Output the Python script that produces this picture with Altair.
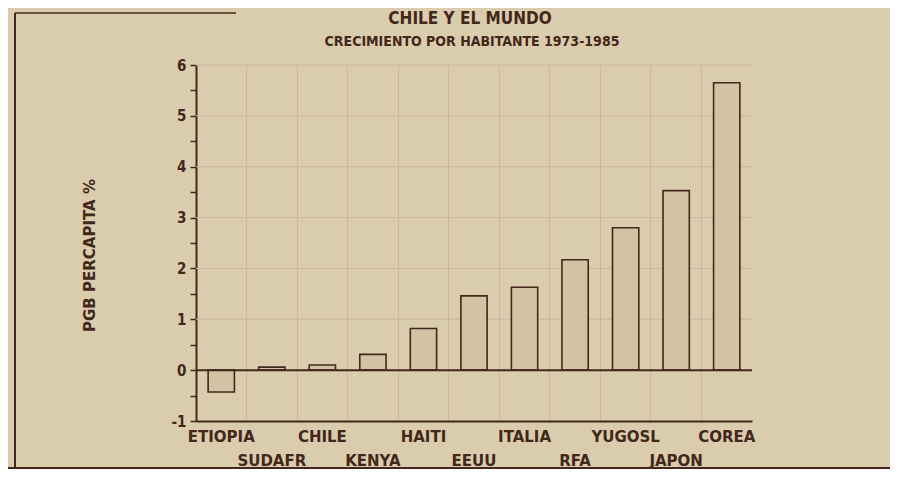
import altair as alt
import pandas as pd

countries = ["ETIOPIA", "SUDAFR", "CHILE", "KENYA", "HAITI", "EEUU",
             "ITALIA", "RFA", "YUGOSL", "JAPON", "COREA"]
values = [-0.43, 0.06, 0.10, 0.31, 0.82, 1.46, 1.63, 2.17, 2.80, 3.53, 5.65]
grid_lines = [1, 2, 3, 4, 5, 6]
zero_line = [0]
y_ticks = [-1, -0.5, 0, 0.5, 1, 1.5, 2, 2.5, 3, 3.5, 4, 4.5, 5, 5.5, 6]
title_text = "CHILE Y EL MUNDO"
subtitle_text = "CRECIMIENTO POR HABITANTE 1973-1985"

df = pd.DataFrame({"pais": countries, "pgb": values,
                   "fila": [i % 2 for i in range(len(countries))]})
gdf = pd.DataFrame({"pgb": grid_lines})
zdf = pd.DataFrame({"pgb": zero_line})

INK = "#43271a"
BG = "#dacdad"
GRID = "#d2b49f"
BARFILL = "#d2c3a4"
FONT = "DejaVu Sans Condensed"
WIDE = "DejaVu Sans"

xscale = alt.Scale(domain=countries, paddingInner=0, paddingOuter=0)
yscale = alt.Scale(domain=[-1, 6], nice=False, zero=False)

yaxis = alt.Axis(values=y_ticks,
                 labelExpr="datum.value % 1 === 0 ? '' + datum.value : ''",
                 grid=False, tickSize=6, tickColor=INK, tickWidth=1.5,
                 domainColor=INK, domainWidth=2,
                 labelFont=FONT, labelFontSize=15, labelFontWeight="bold",
                 labelColor=INK, labelPadding=4,
                 title="PGB PERCAPITA %", titleFont=WIDE,
                 titleFontSize=15, titleFontWeight="bold",
                 titleColor=INK, titlePadding=74, titleY=190)

bars = alt.Chart(df).mark_bar(
    width=alt.RelativeBandSize(0.52), fill=BARFILL, stroke=INK, strokeWidth=1.6
).encode(
    x=alt.X("pais:N", sort=countries, scale=xscale,
            axis=alt.Axis(labels=False, ticks=False, grid=True, bandPosition=0,
                          gridColor=GRID, gridWidth=1, domainColor=INK,
                          domainWidth=2, title=None)),
    y=alt.Y("pgb:Q", scale=yscale, axis=yaxis),
)

grid = alt.Chart(gdf).mark_rule(color=GRID, strokeWidth=1).encode(
    y=alt.Y("pgb:Q", scale=yscale, axis=yaxis)
)

zero = alt.Chart(zdf).mark_rule(color=INK, strokeWidth=2).encode(
    y=alt.Y("pgb:Q", scale=yscale, axis=yaxis)
)

lab_style = dict(font=WIDE, fontSize=15, fontWeight="bold", color=INK,
                 baseline="middle", align="center")
labels_top = alt.Chart(df).transform_filter("datum.fila == 0").mark_text(**lab_style).encode(
    x=alt.X("pais:N", sort=countries, scale=xscale),
    y=alt.value(372), text="pais:N")
labels_bot = alt.Chart(df).transform_filter("datum.fila == 1").mark_text(**lab_style).encode(
    x=alt.X("pais:N", sort=countries, scale=xscale),
    y=alt.value(396), text="pais:N")

title_mark = alt.Chart(zdf).mark_text(
    text=title_text, font=FONT, fontSize=17, fontWeight="bold", color=INK,
    align="center", baseline="middle"
).encode(x=alt.value(274), y=alt.value(-46))
subtitle_mark = alt.Chart(zdf).mark_text(
    text=subtitle_text, font=FONT, fontSize=14, fontWeight="bold", color=INK,
    align="center", baseline="middle"
).encode(x=alt.value(276), y=alt.value(-23))

frame_left = alt.Chart(zdf).mark_rule(color=INK, strokeWidth=2).encode(
    x=alt.value(-181), y=alt.value(-52), y2=alt.value(404))
frame_top = alt.Chart(zdf).mark_rule(color=INK, strokeWidth=1.5).encode(
    x=alt.value(-181), x2=alt.value(40), y=alt.value(-52))
frame_bottom = alt.Chart(zdf).mark_rule(color=INK, strokeWidth=2).encode(
    x=alt.value(-188), x2=alt.value(694), y=alt.value(403))

chart = alt.layer(grid, bars, zero, labels_top, labels_bot, title_mark,
                  subtitle_mark, frame_left, frame_top, frame_bottom).properties(
    width=556, height=356,
    padding={"left": 188, "top": 57, "right": 138, "bottom": 48},
    autosize=alt.AutoSizeParams(type="none"),
    background=BG,
).configure_view(stroke="transparent")

chart.save("out.html", embed_options={"renderer": "svg", "actions": False})
